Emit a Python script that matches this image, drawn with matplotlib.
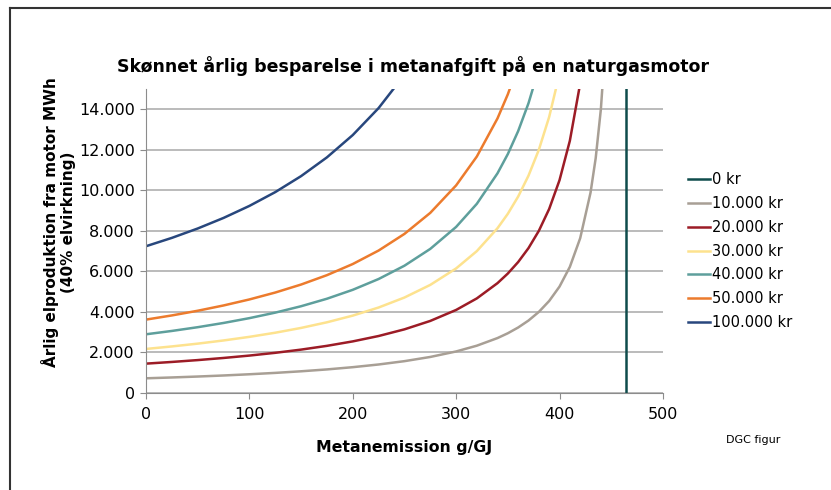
import matplotlib
matplotlib.use("Agg")
import matplotlib.pyplot as plt
from matplotlib.lines import Line2D

# Metanemission (g/GJ) - shared x grid, each series stops once it leaves the plot
emission = [0, 25, 50, 75, 100, 125, 150, 175, 200, 225, 250, 275, 300,
            320, 340, 350, 360, 370, 380, 390, 400, 410, 420, 430, 435, 440, 445]

# Annual el-production (MWh)
el_10k = [725, 766, 812, 864, 924, 992, 1071, 1163, 1274, 1407, 1571, 1779, 2050,
          2335, 2711, 2949, 3233, 3577, 4002, 4543, 5253, 6226, 7641, 9888, 11593, 14008, 17695]
el_20k = [1449, 1532, 1624, 1729, 1847, 1983, 2141, 2327, 2547, 2813, 3142, 3558, 4100,
          4669, 5423, 5898, 6465, 7153, 8005, 9086, 10506, 12452, 15282]
el_30k = [2174, 2298, 2436, 2593, 2771, 2975, 3212, 3490, 3820, 4220, 4713, 5337, 6150,
          7004, 8134, 8847, 9698, 10730, 12007, 13630, 15759]
el_40k = [2898, 3063, 3248, 3457, 3695, 3967, 4283, 4653, 5094, 5627, 6284, 7115, 8200,
          9339, 10845, 11796, 12931, 14306, 16010]
el_50k = [3623, 3829, 4060, 4321, 4618, 4959, 5354, 5817, 6367, 7033, 7855, 8894, 10250,
          11674, 13556, 14746, 16163]
el_100k = [7246, 7658, 8121, 8643, 9236, 9917, 10707, 11633, 12735, 14067, 15710]

# 0 kr: vertical line at the emission limit
zero_x = [464, 464]
zero_y = [0, 15000]

labels = ["0 kr", "10.000 kr", "20.000 kr", "30.000 kr", "40.000 kr", "50.000 kr", "100.000 kr"]
colors = ["#0f4c4c", "#a89f95", "#9c1c26", "#fde28e", "#5e9f9c", "#ec7b2d", "#28477d"]

fig = plt.figure(figsize=(8.31, 4.90), dpi=100)
ax = fig.add_axes([0.1757, 0.198, 0.622, 0.620])

ax.plot(zero_x, zero_y, color=colors[0], lw=1.8, label=labels[0])
for ys, lab, col in zip([el_10k, el_20k, el_30k, el_40k, el_50k, el_100k], labels[1:], colors[1:]):
    ax.plot(emission[:len(ys)], ys, color=col, lw=1.8, label=lab)

ax.set_xlim(0, 500)
ax.set_ylim(0, 15000)
ax.set_xticks(range(0, 501, 100))
ax.set_yticks(range(0, 14001, 2000))
ax.set_yticklabels([f"{v:,}".replace(",", ".") for v in range(0, 14001, 2000)])
ax.grid(axis="y", color="#b5b5b5", lw=1.3)
ax.set_axisbelow(True)
for s in ["top", "right"]:
    ax.spines[s].set_visible(False)
for s in ["left", "bottom"]:
    ax.spines[s].set_color("#8c8c8c")
ax.tick_params(axis="both", direction="out", length=4, color="#8c8c8c", labelsize=11.5, pad=4)
ax.tick_params(axis="x", pad=6)

ax.set_xlabel("Metanemission g/GJ", fontsize=11.3, fontweight="bold", labelpad=13)
ax.set_ylabel("Årlig elproduktion fra motor MWh\n(40% elvirkning)", fontsize=11,
              fontweight="bold", linespacing=1.2)
ax.yaxis.set_label_coords(-0.135, 0.5625)
fig.text(0.497, 0.866, "Skønnet årlig besparelse i metanafgift på en naturgasmotor",
         ha="center", va="center", fontsize=12.5, fontweight="bold")
fig.text(0.874, 0.095, "DGC figur", fontsize=8)

ax.legend(loc="center left", bbox_to_anchor=(1.038, 0.467), frameon=False, fontsize=10.5,
          handlelength=1.5, handletextpad=0.1, labelspacing=0.6, borderaxespad=0)

# Frame lines around the picture (top and left)
fig.add_artist(Line2D([9.5 / 831, 830 / 831], [1 - 8 / 490, 1 - 8 / 490], color="#333333", lw=1.5))
fig.add_artist(Line2D([9.5 / 831, 9.5 / 831], [0, 1 - 8 / 490], color="#333333", lw=1.5))

fig.savefig("out.png", dpi=100)
